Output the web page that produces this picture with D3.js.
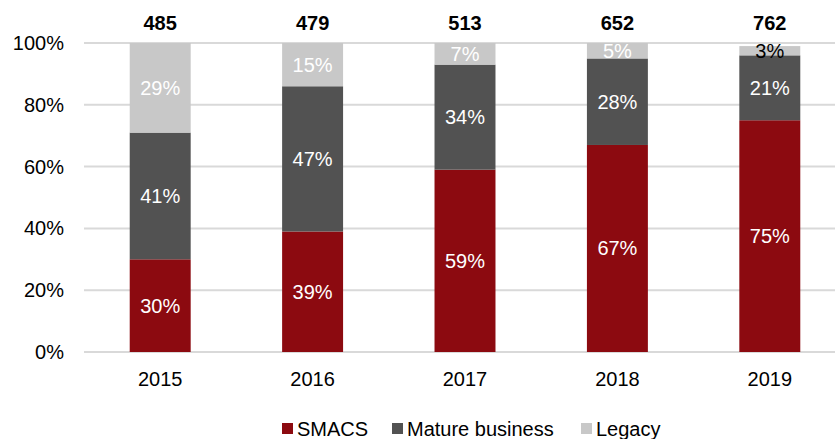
<!DOCTYPE html>
<html>
<head>
<meta charset="utf-8">
<script src="https://cdnjs.cloudflare.com/ajax/libs/d3/7.8.5/d3.min.js"></script>
<style>
body { margin: 0; background: #fff; }
svg { display: block; font-family: "Liberation Sans", Arial, sans-serif; }
</style>
</head>
<body>
<svg id="chart" width="835" height="439"></svg>
<script>
const years = ["2015", "2016", "2017", "2018", "2019"];
const totals = [485, 479, 513, 652, 762];
const smacs = [30, 39, 59, 67, 75];
const mature = [41, 47, 34, 28, 21];
const legacy = [29, 15, 7, 5, 3];
const seriesNames = ["SMACS", "Mature business", "Legacy"];
const yTicks = [0, 20, 40, 60, 80, 100];

const colors = ["#8C0A10", "#525252", "#C8C8C8"];
const svg = d3.select("#chart");

const x = d3.scaleBand().domain(years).range([84, 846]).paddingInner(0.6).paddingOuter(0.3);
const y = d3.scaleLinear().domain([0, 100]).range([352, 43]).clamp(true);

// gridlines
svg.append("g").selectAll("line").data(yTicks).join("line")
  .attr("x1", 84).attr("x2", 835)
  .attr("y1", d => y(d)).attr("y2", d => y(d))
  .attr("stroke", "#D9D9D9").attr("stroke-width", 2);

// y labels
svg.append("g").selectAll("text").data(yTicks).join("text")
  .attr("x", 64).attr("y", d => y(d)).attr("dy", "0.35em")
  .attr("text-anchor", "end").attr("font-size", 20).attr("fill", "#000")
  .text(d => d + "%");

const rows = years.map((yr, i) => ({ year: yr, SMACS: smacs[i], "Mature business": mature[i], Legacy: legacy[i] }));
const stacked = d3.stack().keys(seriesNames)(rows);

stacked.forEach((layer, li) => {
  const g = svg.append("g");
  g.selectAll("rect").data(layer).join("rect")
    .attr("x", d => x(d.data.year))
    .attr("width", x.bandwidth())
    .attr("y", d => y(d[1]))
    .attr("height", d => y(d[0]) - y(d[1]))
    .attr("fill", colors[li]);
});
stacked.forEach((layer, li) => {
  svg.append("g").selectAll("text").data(layer).join("text")
    .attr("x", d => x(d.data.year) + x.bandwidth() / 2)
    .attr("y", d => (y(d[0]) + y(d[1])) / 2)
    .attr("dy", "0.35em")
    .attr("text-anchor", "middle").attr("font-size", 20)
    .attr("fill", (d, i) => (li === 2 && d.data.year === "2019") ? "#000" : "#fff")
    .text(d => (d[1] - d[0]) + "%");
});

// totals
svg.append("g").selectAll("text").data(years).join("text")
  .attr("x", d => x(d) + x.bandwidth() / 2).attr("y", 30)
  .attr("text-anchor", "middle").attr("font-size", 20).attr("font-weight", "bold")
  .text((d, i) => totals[i]);

// x labels
svg.append("g").selectAll("text").data(years).join("text")
  .attr("x", d => x(d) + x.bandwidth() / 2).attr("y", 386)
  .attr("text-anchor", "middle").attr("font-size", 20)
  .text(d => d);

// legend
const legX = [282, 392, 581];
const leg = svg.append("g").selectAll("g").data(seriesNames).join("g")
  .attr("transform", (d, i) => `translate(${legX[i]},0)`);
leg.append("rect").attr("x", 0).attr("y", 423).attr("width", 11).attr("height", 11)
  .attr("fill", (d, i) => colors[i]);
leg.append("text").attr("x", 15).attr("y", 436).attr("font-size", 20).text(d => d);
</script>
</body>
</html>
